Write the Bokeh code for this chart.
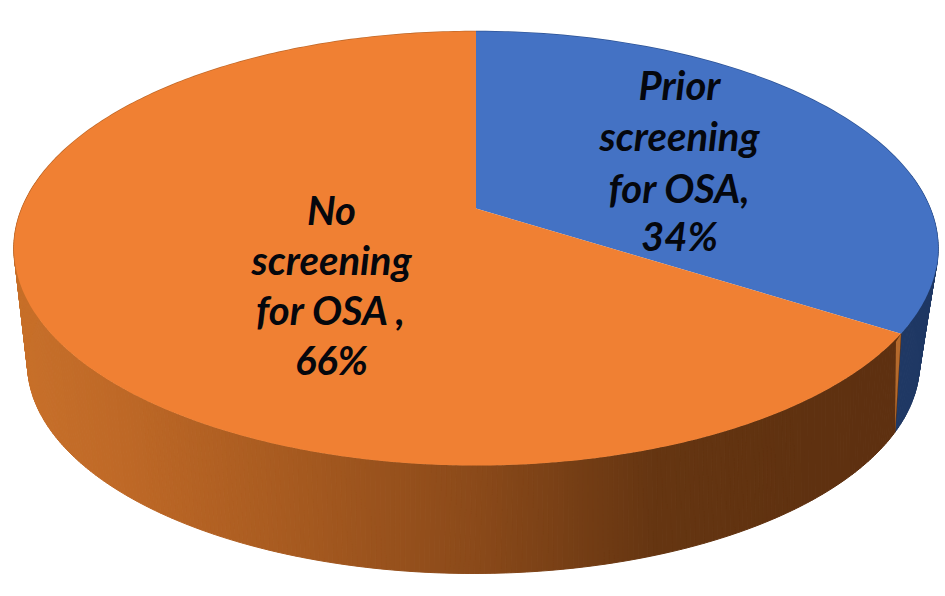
import numpy as np
from bokeh.plotting import figure
from bokeh.models import Range1d
from bokeh.core.properties import value
from bokeh.embed import file_html
from bokeh.resources import INLINE

categories = ["Prior screening for OSA", "No screening for OSA"]
shares = [34, 66]
label_lines = [["Prior", "screening", "for OSA,", "34%"],
               ["No", "screening", "for OSA ,", "66%"]]

# layout of the tilted disc, in reference pixels
TOP = dict(cx=475.5, cy=248, rx=462, ry=217)
BOT = dict(cx=473, cy=363, rx=446, ry=210)
APEX = (475.5, 208)
GAIN = 0.924  # tilt foreshortens the sweep of the first slice
TOP_COLORS = ["#4472C4", "#F08033"]
RIM_COLORS = ["#2F5597", "#C0692A"]
STOP_X = [20, 120, 300, 475, 650, 800, 900]
STOP_R = [0xC8, 0xBF, 0xA6, 0x8B, 0x66, 0x60, 0x5E]
STOP_G = [0x70, 0x69, 0x5A, 0x4A, 0x36, 0x32, 0x30]
STOP_B = [0x2A, 0x27, 0x20, 0x1A, 0x12, 0x10, 0x10]


def rim(e, phi):
    return e["cx"] + e["rx"] * np.sin(phi), e["cy"] - e["ry"] * np.cos(phi)


def bot_phi(phi):
    # the lower rim lags the upper one a little on the right-hand side
    return phi - np.radians(4) * np.clip((np.pi - phi) / (np.pi - split), 0, 1)


p = figure(width=945, height=596, output_backend="svg", toolbar_location=None,
           x_range=Range1d(0, 945), y_range=Range1d(596, 0), min_border=0,
           outline_line_color=None, background_fill_color="white")
p.axis.visible = False
p.grid.visible = False

split = 2 * np.pi * shares[0] / sum(shares) * GAIN


def wall(a, b, color_fn):
    edges = np.linspace(a, b, int(abs(b - a) * 90) + 2)
    xs, ys, cols = [], [], []
    for p0, p1 in zip(edges[:-1], edges[1:]):
        x0, y0 = rim(TOP, p0)
        x1, y1 = rim(TOP, p1)
        x2, y2 = rim(BOT, bot_phi(p1))
        x3, y3 = rim(BOT, bot_phi(p0))
        xs.append([x0, x1, x2, x3])
        ys.append([y0, y1, y2, y3])
        cols.append(color_fn((x0 + x1 + x2 + x3) / 4))
    p.patches(xs, ys, fill_color=cols, line_color=cols, line_width=1)


def orange_wall(x):
    r = int(np.interp(x, STOP_X, STOP_R))
    g = int(np.interp(x, STOP_X, STOP_G))
    b = int(np.interp(x, STOP_X, STOP_B))
    return f"#{r:02x}{g:02x}{b:02x}"


wall(np.radians(70), split, lambda x: "#1F3864")
wall(split, np.radians(290), orange_wall)

# cut face sliver between the two walls
sx, sy = rim(TOP, split)
bx, by = rim(BOT, bot_phi(split))
p.patch([sx, sx - 5, bx], [sy, sy + 8, by], fill_color="#B56A2C", line_color=None)

# thin darker rim on the far edge of the disc
rx, ry = rim(TOP, np.linspace(0, np.radians(95), 80))
p.line(rx, ry, line_color=RIM_COLORS[0], line_width=1.5)
rx, ry = rim(TOP, np.linspace(np.radians(265), 2 * np.pi, 140))
p.line(rx, ry, line_color=RIM_COLORS[1], line_width=1.5)

# top faces
phis_a = np.linspace(0, split, 200)
phis_b = np.linspace(split, 2 * np.pi, 400)
for phis, col in zip([phis_a, phis_b], TOP_COLORS):
    x, y = rim(TOP, phis)
    p.patch(np.r_[APEX[0], x], np.r_[APEX[1], y], fill_color=col, line_color=None)

# labels
anchors = [(679, [84, 135, 187, 235]), (331, [209, 259, 309, 359])]
for lines, (ax, ay) in zip(label_lines, anchors):
    p.text(x=[ax] * len(lines), y=ay, text=lines, text_align="center", text_baseline="middle",
           text_color="#05070d", text_font=value("Lato"), text_font_size="40px",
           text_font_style="bold italic")

open("out.html", "w").write(file_html(p, INLINE))
